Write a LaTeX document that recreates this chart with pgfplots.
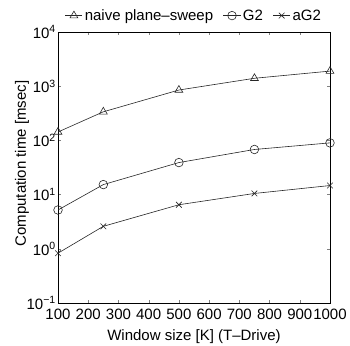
\documentclass[border=0pt]{standalone}
\usepackage{pgfplots}
\pgfplotsset{compat=1.18}
\usepackage{fontspec}
\setmainfont{Liberation Sans}
\newcommand{\ff}{\fontsize{15}{17}\selectfont}
\begin{document}
\begin{tikzpicture}
\begin{axis}[
  scale only axis,
  width=272pt, height=271pt,
  ymode=log,
  xmin=100, xmax=1000,
  ymin=0.1, ymax=10000,
  xtick={100,200,300,400,500,600,700,800,900,1000},
  ytick={0.1,1,10,100,1000,10000},
  yticklabels={10\textsuperscript{−1},10\textsuperscript{0},10\textsuperscript{1},10\textsuperscript{2},10\textsuperscript{3},10\textsuperscript{4}},
  minor tick num=0,
  yminorticks=false,
  tick align=inside,
  major tick length=3pt,
  /pgf/number format/assume math mode=true,
  /pgf/number format/1000 sep={},
  tick label style={font=\ff},
  label style={font=\ff},
  xticklabel style={inner sep=2pt, yshift=-4pt},
  yticklabel style={inner sep=2pt},
  xlabel={Window size [K] (T–Drive)},
  ylabel={Computation time [msec]},
  xlabel style={at={(axis description cs:0.5,0)}, anchor=center, yshift=-34pt},
  ylabel style={at={(axis description cs:0,0.5)}, anchor=center, yshift=36pt, xshift=4pt},
  legend columns=3,
  legend style={draw=none, fill=none, at={(0.5,1.0)}, anchor=south, yshift=7pt,
    font=\ff,
    /tikz/every even column/.append style={column sep=8pt}, inner sep=1pt},
  legend cell align=left,
  every axis plot/.append style={line width=0.6pt, color=black!85},
]
\addplot[mark=triangle, mark size=4.5pt, mark options={solid}] coordinates {
(100,143) (250,337) (500,850) (750,1400) (1000,1900)};
\addlegendentry{naive plane–sweep}
\addplot[mark=o, mark size=4.3pt] coordinates {
(100,5.2) (250,15.3) (500,39) (750,68) (1000,90)};
\addlegendentry{G2}
\addplot[mark=x, mark size=4pt] coordinates {
(100,0.83) (250,2.6) (500,6.5) (750,10.5) (1000,14.7)};
\addlegendentry{aG2}
\end{axis}
\pgfresetboundingbox
\path[use as bounding box] (-58pt,-42pt) rectangle (292pt,303pt);
\end{tikzpicture}
\end{document}
